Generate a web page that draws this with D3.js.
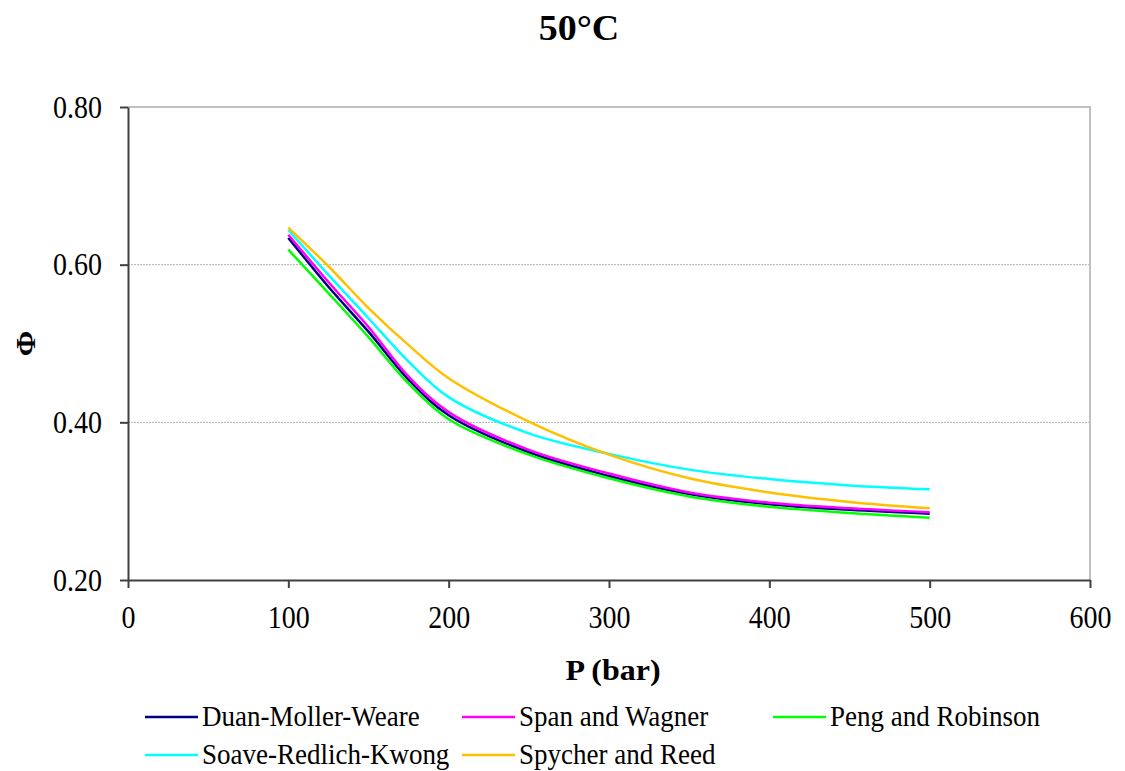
<!DOCTYPE html>
<html>
<head>
<meta charset="utf-8">
<script src="https://cdn.jsdelivr.net/npm/d3@7"></script>
<style>
  body { margin: 0; background: #fff; }
  svg text { font-family: "Liberation Serif", "Times New Roman", serif; fill: #000; }
</style>
</head>
<body>
<div class="chart"></div>
<script>
// pressure (bar)
const pressure = [100, 125, 150, 175, 200, 250, 300, 350, 400, 450, 500];

// fugacity coefficient per model
const duanMollerWeare   = [0.634, 0.572, 0.515, 0.454, 0.409, 0.362, 0.332, 0.309, 0.296, 0.289, 0.284];
const spanWagner        = [0.638, 0.578, 0.521, 0.458, 0.413, 0.365, 0.335, 0.311, 0.298, 0.291, 0.286];
const pengRobinson      = [0.619, 0.564, 0.508, 0.449, 0.404, 0.359, 0.329, 0.306, 0.293, 0.285, 0.279];
const soaveRedlichKwong = [0.644, 0.587, 0.532, 0.477, 0.432, 0.386, 0.360, 0.340, 0.328, 0.320, 0.315];
const spycherReed       = [0.647, 0.598, 0.545, 0.498, 0.456, 0.401, 0.359, 0.329, 0.311, 0.299, 0.291];

const seriesNames  = ["Duan-Moller-Weare", "Span and Wagner", "Peng and Robinson", "Soave-Redlich-Kwong", "Spycher and Reed"];
const seriesColors = ["#000080", "#ff00ff", "#00ff00", "#00ffff", "#ffc000"];
const seriesValues = [duanMollerWeare, spanWagner, pengRobinson, soaveRedlichKwong, spycherReed];

const xTicks = [0, 100, 200, 300, 400, 500, 600];
const yTicks = [0.20, 0.40, 0.60, 0.80];

const width = 1125;
const height = 771;
const margin = {left: 128, right: 35, top: 107, bottom: 191};
const sy = 1.15; // text in the original is drawn a bit taller than wide

const svg = d3.select(".chart")
    .append("svg")
    .attr("width", width)
    .attr("height", height);

const x = d3.scaleLinear().domain([0, 600]).range([margin.left, width - margin.right]);
const y = d3.scaleLinear().domain([0.2, 0.8]).range([height - margin.bottom, margin.top]);

// helper for centred labels
function label(px, py, txt, size, bold) {
    return svg.append("g")
        .attr("transform", `translate(${px},${py})`)
        .append("text")
        .attr("text-anchor", "middle")
        .attr("font-size", size)
        .attr("font-weight", bold ? "bold" : "normal")
        .text(txt);
}

// title
label(579, 40, "50°C", 38, true).attr("transform", "scale(1,0.95)");

// gridlines
svg.append("g")
    .selectAll("line")
    .data([0.40, 0.60])
    .enter()
    .append("line")
    .attr("x1", x(0))
    .attr("x2", x(600))
    .attr("y1", d => y(d))
    .attr("y2", d => y(d))
    .attr("stroke", "#b0b0b0")
    .attr("stroke-width", 1)
    .attr("stroke-dasharray", "2,1");

// top and right border
svg.append("path")
    .attr("d", `M${x(0)},${y(0.8)}H${x(600)}V${y(0.2)}`)
    .attr("fill", "none")
    .attr("stroke", "#c0c0c0")
    .attr("stroke-width", 2);

// axes
const xAxis = svg.append("g")
    .attr("transform", `translate(0,${y(0.2)})`)
    .call(d3.axisBottom(x).tickValues(xTicks).tickSize(8).tickSizeOuter(0).tickFormat(d3.format("d")));

const yAxis = svg.append("g")
    .attr("transform", `translate(${x(0)},0)`)
    .call(d3.axisLeft(y).tickValues(yTicks).tickSize(8).tickSizeOuter(0).tickFormat(d3.format(".2f")));

[xAxis, yAxis].forEach(ax => {
    ax.select(".domain").attr("stroke", "#404040").attr("stroke-width", 2);
    ax.selectAll(".tick line").attr("stroke", "#404040").attr("stroke-width", 2);
    ax.selectAll(".tick text")
        .attr("font-family", "Liberation Serif, Times New Roman, serif")
        .attr("font-size", 28)
        .attr("fill", "#000")
        .attr("transform", `scale(1,${sy})`);
});
xAxis.selectAll(".tick text").attr("dy", "0.71em").attr("y", 25 / sy);
yAxis.selectAll(".tick text").attr("x", -26);

// axis titles
label(613, 680, "P (bar)", 32, true).attr("transform", "scale(1,0.9)");

svg.append("g")
    .attr("transform", `translate(35,${y(0.5)}) rotate(-90)`)
    .append("text")
    .attr("text-anchor", "middle")
    .attr("font-size", 28)
    .attr("font-weight", "bold")
    .attr("transform", "scale(1.1,1)")
    .text("Φ");

// lines
const line = d3.line()
    .x(d => x(d[0]))
    .y(d => y(d[1]))
    .curve(d3.curveCatmullRom.alpha(0.5));

svg.append("g")
    .selectAll("path")
    .data(seriesValues)
    .enter()
    .append("path")
    .attr("d", vals => line(vals.map((v, i) => [pressure[i], v])))
    .attr("fill", "none")
    .attr("stroke", (d, i) => seriesColors[i])
    .attr("stroke-width", 2.5);

// legend
const legendPos = [[145, 717], [462, 717], [773, 717], [145, 755], [462, 755]];

const legend = svg.append("g")
    .selectAll("g")
    .data(seriesNames)
    .enter()
    .append("g")
    .attr("transform", (d, i) => `translate(${legendPos[i][0]},${legendPos[i][1]})`);

legend.append("line")
    .attr("x1", 0)
    .attr("x2", 53)
    .attr("stroke", (d, i) => seriesColors[i])
    .attr("stroke-width", 2.5);

legend.append("text")
    .attr("x", 57)
    .attr("dy", "0.3em")
    .attr("font-size", 27)
    .attr("transform", "scale(1,1.08)")
    .text(d => d);
</script>
</body>
</html>
